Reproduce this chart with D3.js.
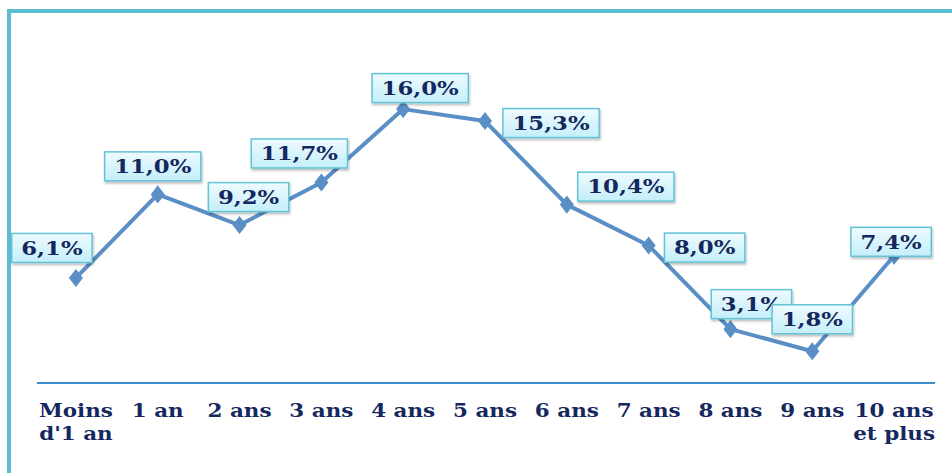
<!DOCTYPE html>
<html><head><meta charset="utf-8">
<script src="https://cdn.jsdelivr.net/npm/d3@7"></script>
<style>
html,body{margin:0;padding:0;background:#fff;}
svg{display:block;}
</style></head>
<body>
<script>
const categories = ["Moins\nd'1 an","1 an","2 ans","3 ans","4 ans","5 ans","6 ans","7 ans","8 ans","9 ans","10 ans\net plus"];
const values = [6.1, 11.0, 9.2, 11.7, 16.0, 15.3, 10.4, 8.0, 3.1, 1.8, 7.4];
const valueLabels = ["6,1%","11,0%","9,2%","11,7%","16,0%","15,3%","10,4%","8,0%","3,1%","1,8%","7,4%"];
// manual label placement offsets (layout, px from point)
const labelDx = [-24, -5, 9, -22, 17, 66, 59, 56, 21, 0, -3];
const labelDy = [-30, -28, -28, -29, -21, 2, -18, 2, -25, -32, -14];

const W = 952, H = 473;
const svg = d3.select("body").append("svg").attr("width", W).attr("height", H);

const defs = svg.append("defs");
const grad = defs.append("linearGradient").attr("id","lblGrad").attr("x1",0).attr("y1",0).attr("x2",0).attr("y2",1);
grad.append("stop").attr("offset","0%").attr("stop-color","#eefbfe");
grad.append("stop").attr("offset","100%").attr("stop-color","#c4eefa");
const flt = defs.append("filter").attr("id","shadow").attr("x","-20%").attr("y","-20%").attr("width","140%").attr("height","150%");
flt.append("feDropShadow").attr("dx",1).attr("dy",2).attr("stdDeviation",1.2).attr("flood-color","#000").attr("flood-opacity",0.25);

// frame
svg.append("path").attr("d", `M9,${H} L9,11 L${W},11`).attr("fill","none")
  .attr("stroke","#5bbcd0").attr("stroke-width",4);

const x = d3.scaleBand().domain(categories).range([35, 935]).padding(0);
const y = d3.scaleLinear().domain([0, 18]).range([382, 75]);

// axis
const xAxis = d3.axisBottom(x).tickSize(0).tickFormat("");
const ax = svg.append("g").attr("transform","translate(0,383)").call(xAxis);
ax.select(".domain").attr("stroke","#3a8fc9").attr("stroke-width",2).attr("d","M37,0H935");

// category labels
const catG = svg.append("g");
categories.forEach((c,i)=>{
  const cxp = x(c)+x.bandwidth()/2;
  const t = catG.append("text").attr("transform",`translate(${cxp},417) scale(1.13,1)`)
    .attr("text-anchor","middle").attr("font-family","'DejaVu Serif', serif")
    .attr("font-weight","bold").attr("font-size",19).attr("fill","#14285e");
  c.split("\n").forEach((ln,j)=>{
    t.append("tspan").attr("x", 0).attr("y", j*23).text(ln);
  });
});

const cx = (d,i)=> x(categories[i]) + x.bandwidth()/2;

// line
const line = d3.line().x((d,i)=>cx(d,i)).y(d=>y(d));
svg.append("path").datum(values).attr("d", line).attr("fill","none")
  .attr("stroke","#5a8fc6").attr("stroke-width",4).attr("stroke-linejoin","round");

// markers
svg.append("g").selectAll("path").data(values).join("path")
  .attr("d", d3.symbol(d3.symbolDiamond, 130)())
  .attr("transform",(d,i)=>`translate(${cx(d,i)},${y(d)}) scale(1.15,0.85)`)
  .attr("fill","#5a8fc6");

// value labels
const sx = 1.2;
const lg = svg.append("g").selectAll("g").data(values).join("g")
  .attr("transform",(d,i)=>`translate(${cx(d,i)+labelDx[i]},${y(d)+labelDy[i]})`);
lg.each(function(d,i){
  const g = d3.select(this);
  const rect = g.append("rect").attr("fill","url(#lblGrad)").attr("stroke","#63c3d6")
    .attr("stroke-width",1.5).attr("filter","url(#shadow)");
  const t = g.append("text").attr("text-anchor","middle").attr("dy","0.36em")
    .attr("transform",`scale(${sx},1)`)
    .attr("font-family","'DejaVu Serif', serif").attr("font-weight","bold")
    .attr("font-size",19).attr("fill","#14285e").text(valueLabels[i]);
  const bb = t.node().getBBox();
  const w = bb.width*sx + 19, h = 29;
  rect.attr("x",-w/2).attr("y",-h/2).attr("width",w).attr("height",h);
});
</script>
</body></html>
